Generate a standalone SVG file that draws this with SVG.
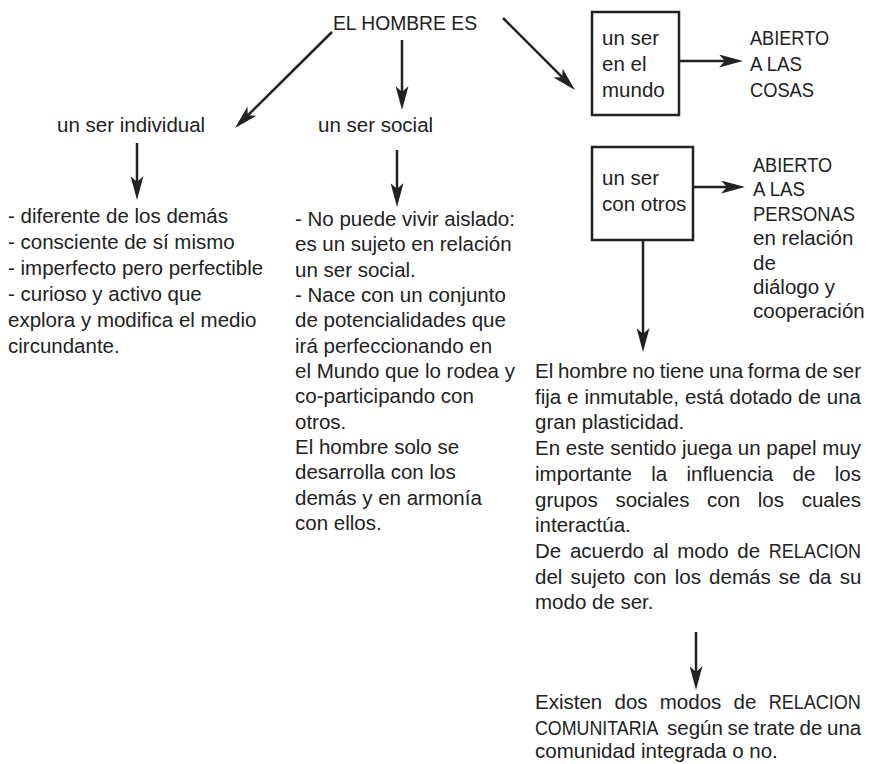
<svg xmlns="http://www.w3.org/2000/svg" width="872" height="764" viewBox="0 0 872 764">
<style>
text{font-family:"Liberation Sans",Arial,sans-serif;font-size:20.5px;fill:#222}
.ln{stroke:#222;stroke-width:2.5;fill:none;marker-end:url(#ah)}
.box{fill:#fff;stroke:#222;stroke-width:2.5}
</style>
<defs>
<marker id="ah" viewBox="0 0 24 13" refX="14" refY="6.5" markerWidth="24" markerHeight="13" markerUnits="userSpaceOnUse" orient="auto">
<path d="M0,0 L24,6.5 L0,13 L6,6.5 Z" fill="#222"/>
</marker>
</defs>
<rect width="872" height="764" fill="#fff"/>
<g id="connectors">
<line class="ln" x1="332" y1="32" x2="242.1" y2="121"/>
<line class="ln" x1="402" y1="40" x2="402" y2="100"/>
<line class="ln" x1="503" y1="18" x2="567.9" y2="82.9"/>
<line class="ln" x1="137" y1="143" x2="137" y2="190"/>
<line class="ln" x1="397" y1="150" x2="397" y2="197"/>
<line class="ln" x1="679" y1="61" x2="733" y2="61"/>
<line class="ln" x1="693" y1="187" x2="735" y2="187"/>
<line class="ln" x1="643" y1="240" x2="643" y2="342"/>
<line class="ln" x1="696" y1="632" x2="696" y2="680"/>
</g>
<g id="title"><text x="333" y="30" textLength="144" lengthAdjust="spacingAndGlyphs">EL HOMBRE ES</text></g>
<g id="individual"><text x="57" y="132">un ser individual</text></g>
<g id="social"><text x="318" y="132">un ser social</text></g>
<g id="mundo">
<rect class="box" x="592" y="12" width="87" height="103"/>
<text x="602" y="45">un ser</text>
<text x="602" y="71">en el</text>
<text x="602" y="97">mundo</text>
</g>
<g id="cosas">
<text x="750" y="45" textLength="79" lengthAdjust="spacingAndGlyphs">ABIERTO</text>
<text x="750" y="71" textLength="52" lengthAdjust="spacingAndGlyphs">A LAS</text>
<text x="750" y="97" textLength="64" lengthAdjust="spacingAndGlyphs">COSAS</text>
</g>
<g id="otros">
<rect class="box" x="592" y="147" width="101" height="93"/>
<text x="602" y="185">un ser</text>
<text x="602" y="211">con otros</text>
</g>
<g id="personas">
<text x="753" y="172" textLength="79" lengthAdjust="spacingAndGlyphs">ABIERTO</text>
<text x="753" y="196.4" textLength="52" lengthAdjust="spacingAndGlyphs">A LAS</text>
<text x="753" y="220.8" textLength="102" lengthAdjust="spacingAndGlyphs">PERSONAS</text>
<text x="753" y="245.2">en relación</text>
<text x="753" y="269.6">de</text>
<text x="753" y="294">diálogo y</text>
<text x="753" y="318.4">cooperación</text>
</g>
<g id="individual-text">
<text x="8" y="223">- diferente de los demás</text>
<text x="8" y="249">- consciente de sí mismo</text>
<text x="8" y="275">- imperfecto pero perfectible</text>
<text x="8" y="301">- curioso y activo que</text>
<text x="8" y="327">explora y modifica el medio</text>
<text x="8" y="353">circundante.</text>
</g>
<g id="social-text">
<text x="295" y="226">- No puede vivir aislado:</text>
<text x="295" y="251.3">es un sujeto en relación</text>
<text x="295" y="276.7">un ser social.</text>
<text x="295" y="302">- Nace con un conjunto</text>
<text x="295" y="327.3">de potencialidades que</text>
<text x="295" y="352.7">irá perfeccionando en</text>
<text x="295" y="378">el Mundo que lo rodea y</text>
<text x="295" y="403.3">co-participando con</text>
<text x="295" y="428.7">otros.</text>
<text x="295" y="454">El hombre solo se</text>
<text x="295" y="479.3">desarrolla con los</text>
<text x="295" y="504.7">demás y en armonía</text>
<text x="295" y="530">con ellos.</text>
</g>
<g id="plasticidad-text">
<text x="535" y="378" word-spacing="-0.96">El hombre no tiene una forma de ser</text>
<text x="535" y="403.7" word-spacing="0.2">fija e inmutable, está dotado de una</text>
<text x="535" y="429.4">gran plasticidad.</text>
<text x="535" y="455.1">En este sentido juega un papel muy</text>
<text y="480.8"><tspan x="535">importante</tspan><tspan x="651.2">la</tspan><tspan x="686.5">influencia</tspan><tspan x="792.5">de</tspan><tspan x="834.7">los</tspan></text>
<text y="506.5"><tspan x="535">grupos</tspan><tspan x="615.4">sociales</tspan><tspan x="707.1">con</tspan><tspan x="757.8">los</tspan><tspan x="801.7">cuales</tspan></text>
<text x="535" y="532.2">interactúa.</text>
<text y="557.9"><tspan x="535">De</tspan><tspan x="569.9">acuerdo</tspan><tspan x="652.7">al</tspan><tspan x="677.3">modo</tspan><tspan x="737.3">de</tspan></text>
<text transform="translate(768.8,557.9) scale(0.88,1)">RELACION</text>
<text x="535" y="583.6" word-spacing="2.5">del sujeto con los demás se da su</text>
<text x="535" y="609.3">modo de ser.</text>
</g>
<g id="comunitaria-text">
<text y="709"><tspan x="535">Existen</tspan><tspan x="614.5">dos</tspan><tspan x="659.8">modos</tspan><tspan x="733.6">de</tspan></text>
<text transform="translate(768.7,709) scale(0.88,1)">RELACION</text>
<text transform="translate(535,734.5) scale(0.87,1)">COMUNITARIA</text>
<text y="734.5"><tspan x="667">según</tspan><tspan x="727.4">se</tspan><tspan x="753.8">trate</tspan><tspan x="799.5">de</tspan><tspan x="827">una</tspan></text>
<text x="535" y="758">comunidad integrada o no.</text>
</g>
</svg>
